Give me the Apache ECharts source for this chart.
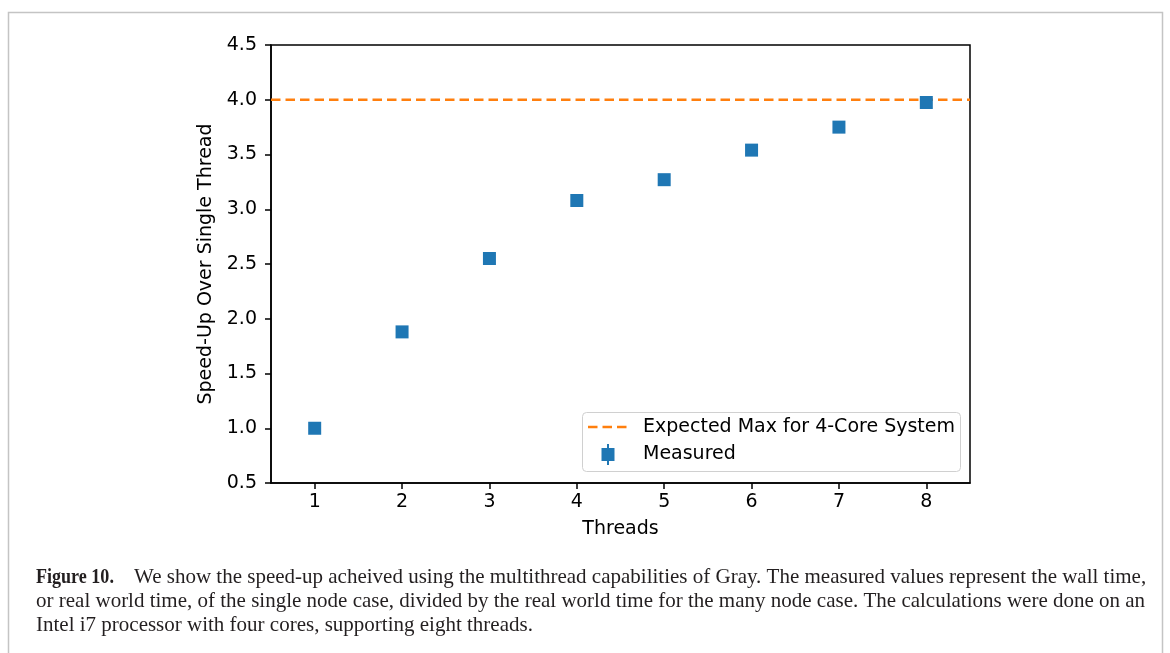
<!DOCTYPE html>
<html>
<head>
<meta charset="utf-8">
<script src="https://cdn.jsdelivr.net/npm/echarts@6/dist/echarts.min.js"></script>
<style>
html,body{margin:0;padding:0;background:#fff;}
#chart{width:1170px;height:653px;}
</style>
</head>
<body>
<div id="chart"></div>
<script>
const threads = [1, 2, 3, 4, 5, 6, 7, 8];
const speedup = [1.00, 1.88, 2.55, 3.08, 3.27, 3.54, 3.75, 3.975];
const expectedMax = 4.0;
const xTicks = [1, 2, 3, 4, 5, 6, 7, 8];
const xRange = [0.5, 8.5];
const yRange = [0.5, 4.5];
const legendNames = ['Expected Max for 4-Core System', 'Measured'];
const captionLabel = 'Figure 10.';
const captionLines = [
  "We show the speed-up acheived using the multithread capabilities of Gray. The measured values represent the wall time,",
  "or real world time, of the single node case, divided by the real world time for the many node case. The calculations were done on an",
  "Intel i7 processor with four cores, supporting eight threads."
];

const chart = echarts.init(document.getElementById('chart'), null, {renderer: 'canvas'});
const font = 'DejaVu Sans';
const serif = 'Liberation Serif';
const blue = '#1f77b4';
const orange = '#ff7f0e';
const fs = 19;

const captionGraphics = [
  {type: 'text', x: 36, y: 567, scaleX: 0.86, originX: 0, originY: 0,
   style: {text: captionLabel, fontFamily: serif, fontSize: 21, fontWeight: 'bold', fill: '#231f20', verticalAlign: 'top'}}
].concat(captionLines.map((l, i) => ({
  type: 'text',
  x: i === 0 ? 134 : 36,
  y: 567 + i * 24,
  style: {text: l, fontFamily: serif, fontSize: 21, fill: '#231f20', verticalAlign: 'top'}
})));

const legendGraphics = [
  {type: 'rect', shape: {x: 582.5, y: 412.5, width: 378, height: 59, r: 4},
   style: {fill: 'rgba(255,255,255,0.8)', stroke: '#d0d0d0', lineWidth: 1}, z: 10},
  {type: 'line', shape: {x1: 588, y1: 427, x2: 628, y2: 427},
   style: {stroke: orange, lineWidth: 2.4, lineDash: [9.5, 5]}, z: 11},
  {type: 'text', x: 643, y: 427, style: {text: legendNames[0], fontFamily: font, fontSize: fs, fill: '#000', verticalAlign: 'middle'}, z: 11},
  {type: 'line', shape: {x1: 608, y1: 444, x2: 608, y2: 465}, style: {stroke: blue, lineWidth: 2}, z: 11},
  {type: 'rect', shape: {x: 601.5, y: 448, width: 13, height: 13}, style: {fill: blue}, z: 11},
  {type: 'text', x: 643, y: 454, style: {text: legendNames[1], fontFamily: font, fontSize: fs, fill: '#000', verticalAlign: 'middle'}, z: 11}
];

chart.setOption({
  animation: false,
  backgroundColor: '#fff',
  textStyle: {fontFamily: font},
  grid: {left: 271, right: 200, top: 45, bottom: 170, show: true, borderColor: '#000', borderWidth: 1.5, backgroundColor: 'transparent'},
  xAxis: {
    type: 'value', min: xRange[0], max: xRange[1],
    name: 'Threads', nameLocation: 'middle', nameGap: 37,
    nameTextStyle: {fontFamily: font, fontSize: fs, color: '#000'},
    splitLine: {show: false},
    axisLine: {show: true, lineStyle: {color: '#000', width: 1.5}},
    axisTick: {show: true, length: 6, lineStyle: {color: '#000', width: 1.5}, customValues: xTicks},
    axisLabel: {fontFamily: font, fontSize: fs, color: '#000', margin: 10, customValues: xTicks}
  },
  yAxis: {
    type: 'value', min: yRange[0], max: yRange[1], interval: 0.5,
    name: 'Speed-Up Over Single Thread', nameLocation: 'middle', nameGap: 54, nameRotate: 90,
    nameTextStyle: {fontFamily: font, fontSize: fs, color: '#000'},
    splitLine: {show: false},
    axisLine: {show: true, lineStyle: {color: '#000', width: 1.5}},
    axisTick: {show: true, length: 6, lineStyle: {color: '#000', width: 1.5}},
    axisLabel: {fontFamily: font, fontSize: fs, color: '#000', margin: 14, formatter: v => v.toFixed(1)}
  },
  series: [
    {
      name: legendNames[0], type: 'line', symbol: 'none',
      data: xRange.map(x => [x, expectedMax]),
      lineStyle: {color: orange, width: 2.4, type: [9.5, 5]}, itemStyle: {color: orange},
      z: 2
    },
    {
      name: legendNames[1], type: 'scatter', symbol: 'rect', symbolSize: 13,
      data: threads.map((t, i) => [t, speedup[i]]),
      itemStyle: {color: blue, opacity: 1},
      z: 3
    }
  ],
  graphic: [
    {type: 'rect', shape: {x: 8.5, y: 12.5, width: 1154, height: 660}, style: {fill: 'none', stroke: '#c4c4c4', lineWidth: 1.5}, silent: true}
  ].concat(legendGraphics, captionGraphics)
});
</script>
</body>
</html>
